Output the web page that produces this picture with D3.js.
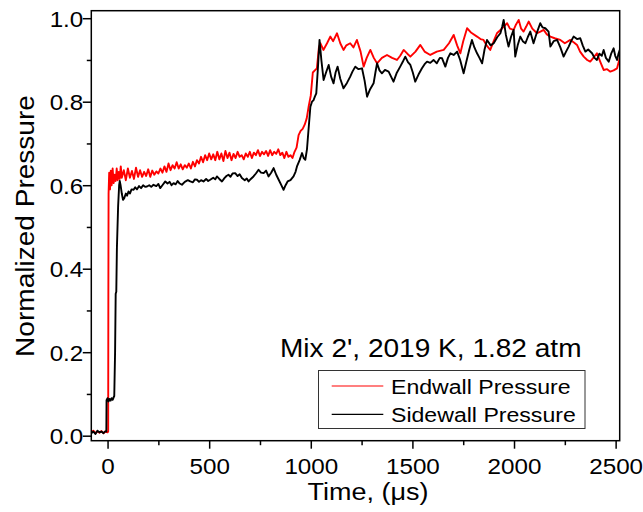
<!DOCTYPE html>
<html><head><meta charset="utf-8">
<script src="https://cdn.jsdelivr.net/npm/d3@7"></script>
<style>body{margin:0;background:#fff}svg{display:block}text{font-family:"Liberation Sans",Arial,sans-serif;fill:#000}</style>
</head><body><svg id="c" width="643" height="512"></svg>
<script>
const xTicks = [0, 500, 1000, 1500, 2000, 2500];
const xMinor = [250, 750, 1250, 1750, 2250];
const yTicks = [0, 0.2, 0.4, 0.6, 0.8, 1.0];
const yMinor = [0.1, 0.3, 0.5, 0.7, 0.9];
const seriesNames = ["Endwall Pressure", "Sidewall Pressure"];
const annotation = "Mix 2', 2019 K, 1.82 atm";

const endwallTime = [-80,-70,-60,-50,-40,-30,-20,-10,0,3,4,5,8,12,16,20,25,30,35,40,45,50,55,60,65,70,80,90,100,110,120,130,140,150,160,170,180,190,200,210,220,230,240,250,260,270,280,290,300,310,320,330,340,350,360,370,380,390,400,410,420,430,440,450,460,470,480,490,500,510,520,530,540,550,560,570,580,590,600,610,620,630,640,650,660,670,680,690,700,710,720,730,740,750,760,770,780,790,800,810,820,830,840,850,860,870,880,890,900,910,920,930,940,950,960,970,980,990,1000,1010,1020,1030,1040,1047,1062,1080,1096,1110,1129,1145,1161,1175,1194,1210,1227,1245,1260,1275,1293,1310,1326,1350,1375,1400,1424,1440,1457,1475,1490,1515,1539,1560,1588,1620,1654,1680,1703,1720,1736,1750,1769,1790,1818,1835,1850,1865,1883,1900,1916,1940,1966,1980,1998,2010,2023,2035,2047,2060,2072,2090,2113,2130,2146,2160,2179,2200,2228,2250,2277,2295,2310,2325,2343,2360,2375,2390,2408,2425,2441,2458,2474,2490,2507,2520];
const endwallValue = [0.008,0.012,0.006,0.01,0.007,0.011,0.006,0.01,0.008,0.01,0.35,0.58,0.63,0.59,0.635,0.60,0.64,0.605,0.625,0.61,0.64,0.612,0.632,0.615,0.645,0.618,0.636,0.612,0.64,0.618,0.634,0.615,0.642,0.62,0.636,0.62,0.632,0.622,0.638,0.62,0.635,0.625,0.633,0.628,0.64,0.63,0.645,0.632,0.652,0.636,0.648,0.64,0.655,0.64,0.65,0.638,0.648,0.642,0.652,0.64,0.656,0.645,0.66,0.652,0.668,0.655,0.672,0.66,0.676,0.662,0.674,0.66,0.68,0.662,0.676,0.658,0.682,0.665,0.678,0.66,0.675,0.665,0.68,0.668,0.672,0.662,0.676,0.668,0.68,0.665,0.678,0.672,0.684,0.67,0.68,0.674,0.682,0.67,0.684,0.672,0.68,0.675,0.686,0.672,0.678,0.665,0.68,0.668,0.672,0.665,0.68,0.69,0.72,0.73,0.735,0.745,0.76,0.79,0.815,0.87,0.875,0.88,0.93,0.94,0.924,0.94,0.956,0.945,0.964,0.94,0.924,0.935,0.94,0.93,0.948,0.92,0.884,0.905,0.924,0.905,0.892,0.905,0.912,0.905,0.9,0.91,0.924,0.915,0.908,0.92,0.936,0.92,0.912,0.92,0.924,0.94,0.96,0.935,0.916,0.945,0.976,0.965,0.956,0.95,0.948,0.935,0.924,0.945,0.964,0.975,0.988,0.975,0.972,0.985,0.996,0.975,0.968,0.98,0.992,0.975,0.964,0.968,0.972,0.962,0.956,0.952,0.948,0.94,0.948,0.942,0.936,0.92,0.908,0.9,0.896,0.905,0.916,0.895,0.876,0.878,0.872,0.875,0.88,0.904];

const sidewallTime = [-80,-70,-60,-50,-40,-30,-20,-10,-6,-5,0,5,10,15,20,25,30,33,37,40,43,46,52,57,60,64,70,76,82,90,96,103,110,118,128,136,145,155,165,175,185,194,205,215,226,240,250,259,270,284,295,305,315,325,335,345,355,366,380,395,407,420,430,440,450,460,472,485,495,505,520,530,538,550,563,575,585,595,605,615,628,640,650,661,675,685,694,705,718,730,743,755,768,780,792,805,817,830,842,855,866,876,886,900,915,925,932,945,957,965,973,981,990,998,1006,1014,1020,1027,1035,1043,1052,1063,1075,1088,1100,1112,1122,1132,1145,1161,1178,1194,1205,1219,1235,1252,1265,1277,1292,1309,1318,1326,1338,1350,1365,1383,1395,1407,1422,1440,1452,1465,1478,1490,1502,1514,1530,1547,1560,1572,1588,1604,1620,1635,1646,1662,1675,1687,1703,1720,1735,1752,1765,1780,1793,1805,1818,1830,1843,1855,1867,1885,1900,1918,1933,1942,1949,1960,1973,1985,1998,2006,2018,2031,2043,2056,2068,2080,2096,2112,2129,2140,2154,2170,2179,2195,2212,2228,2244,2256,2269,2281,2293,2310,2326,2338,2351,2365,2384,2396,2408,2420,2432,2441,2452,2466,2478,2490,2498,2507,2514,2520];
const sidewallValue = [0.006,0.01,0.004,0.012,0.008,0.01,0.006,0.011,0.01,0.085,0.09,0.082,0.088,0.084,0.09,0.086,0.092,0.095,0.2,0.34,0.345,0.45,0.55,0.6,0.61,0.6,0.58,0.565,0.569,0.58,0.575,0.585,0.58,0.59,0.589,0.595,0.59,0.598,0.593,0.6,0.596,0.597,0.6,0.596,0.601,0.598,0.603,0.593,0.6,0.609,0.604,0.608,0.6,0.605,0.602,0.61,0.604,0.601,0.608,0.612,0.609,0.607,0.614,0.613,0.608,0.612,0.609,0.615,0.61,0.613,0.618,0.614,0.621,0.615,0.609,0.617,0.622,0.625,0.62,0.628,0.629,0.622,0.626,0.617,0.612,0.616,0.609,0.615,0.621,0.628,0.637,0.63,0.629,0.635,0.621,0.63,0.641,0.625,0.613,0.6,0.589,0.6,0.609,0.612,0.621,0.632,0.645,0.66,0.677,0.665,0.661,0.685,0.74,0.788,0.8,0.804,0.812,0.82,0.88,0.948,0.9,0.852,0.87,0.888,0.86,0.844,0.87,0.884,0.855,0.832,0.845,0.86,0.872,0.884,0.878,0.88,0.85,0.812,0.83,0.844,0.87,0.892,0.875,0.868,0.876,0.872,0.86,0.848,0.868,0.884,0.895,0.908,0.895,0.888,0.87,0.848,0.865,0.88,0.89,0.896,0.893,0.9,0.892,0.905,0.904,0.884,0.905,0.916,0.912,0.92,0.9,0.868,0.895,0.925,0.948,0.93,0.916,0.905,0.892,0.925,0.948,0.935,0.94,0.955,0.964,0.98,0.996,0.96,0.932,0.955,0.972,0.908,0.935,0.956,0.945,0.94,0.955,0.968,0.94,0.965,0.988,0.978,0.976,0.968,0.932,0.945,0.948,0.93,0.908,0.92,0.932,0.945,0.956,0.95,0.952,0.935,0.92,0.925,0.916,0.905,0.9,0.915,0.91,0.924,0.905,0.896,0.915,0.928,0.91,0.9,0.915,0.924];

const colors = ["#ff0000", "#000000"];

const svg = d3.select("#c");
const L = 91.3, R = 619.7, T = 10.7, B = 440.7;
const x = d3.scaleLinear().domain([-80, 2520]).range([L, R]);
const y = d3.scaleLinear().domain([-0.012, 1.018]).range([B, T]);
const SX = 1.1;

function stext(g, px, py, str, size, anchor) {
  const gg = g.append("g").attr("transform", `translate(${px},${py})`);
  gg.append("text").attr("transform", `scale(${SX},1)`).attr("font-size", size)
    .attr("text-anchor", anchor || "start").text(str);
  return gg;
}

// axes
const xAxis = svg.append("g").attr("transform", `translate(0,${B})`)
  .call(d3.axisBottom(x).tickValues(xTicks).tickSize(8).tickPadding(9.5).tickFormat(d => d));
xAxis.select(".domain").remove();
xAxis.selectAll("line").attr("stroke", "#000").attr("stroke-width", 1.5);
xAxis.selectAll("text").attr("font-size", 22).attr("font-family", "Liberation Sans, Arial").attr("fill", "#000")
  .attr("transform", `scale(${SX},1)`);
const xAxisMinor = svg.append("g").attr("transform", `translate(0,${B})`)
  .call(d3.axisBottom(x).tickValues(xMinor).tickSize(4.5).tickFormat(""));
xAxisMinor.select(".domain").remove();
xAxisMinor.selectAll("line").attr("stroke", "#000").attr("stroke-width", 1.5);

const yAxis = svg.append("g").attr("transform", `translate(${L},0)`)
  .call(d3.axisLeft(y).tickValues(yTicks).tickSize(8.5).tickFormat(d3.format(".1f")));
yAxis.select(".domain").remove();
yAxis.selectAll("line").attr("stroke", "#000").attr("stroke-width", 1.5);
yAxis.selectAll("text").attr("font-size", 22).attr("font-family", "Liberation Sans, Arial").attr("fill", "#000")
  .attr("x", -8 / SX).attr("dy", "0.36em").attr("transform", `scale(${SX},1)`);
const yAxisMinor = svg.append("g").attr("transform", `translate(${L},0)`)
  .call(d3.axisLeft(y).tickValues(yMinor).tickSize(4.5).tickFormat(""));
yAxisMinor.select(".domain").remove();
yAxisMinor.selectAll("line").attr("stroke", "#000").attr("stroke-width", 1.5);

// clip
svg.append("clipPath").attr("id", "clip").append("rect")
  .attr("x", L).attr("y", T).attr("width", R - L).attr("height", B - T);

const line = d3.line().x(d => x(d[0])).y(d => y(d[1]));
const series = [
  d3.zip(endwallTime, endwallValue),
  d3.zip(sidewallTime, sidewallValue)
];
svg.append("g").attr("clip-path", "url(#clip)").selectAll("path").data(series).join("path")
  .attr("d", line).attr("fill", "none").attr("stroke", (d, i) => colors[i])
  .attr("stroke-width", 1.9).attr("stroke-linejoin", "round");

// frame
svg.append("rect").attr("x", L).attr("y", T).attr("width", R - L).attr("height", B - T)
  .attr("fill", "none").attr("stroke", "#000").attr("stroke-width", 1.5);

// titles
stext(svg, 368, 500, "Time, (\u03bcs)", 24.5, "middle");
svg.append("g").attr("transform", `translate(34,226) rotate(-90)`)
  .append("text").attr("transform", `scale(${SX},1)`).attr("font-size", 25.5)
  .attr("text-anchor", "middle").text("Normalized Pressure");

// annotation
stext(svg, 280, 357, annotation, 25.5, "start");

// legend
const lg = svg.append("g");
lg.append("rect").attr("x", 318.5).attr("y", 370.5).attr("width", 266.5).attr("height", 58)
  .attr("fill", "#fff").attr("stroke", "#333").attr("stroke-width", 1);
seriesNames.forEach((n, i) => {
  const yy = 386 + i * 28.3;
  lg.append("line").attr("x1", 331.7).attr("x2", 383.3).attr("y1", yy).attr("y2", yy)
    .attr("stroke", colors[i]).attr("stroke-width", 1.2);
  stext(lg, 391, yy + 7.5, n, 21, "start");
});
</script></body></html>
